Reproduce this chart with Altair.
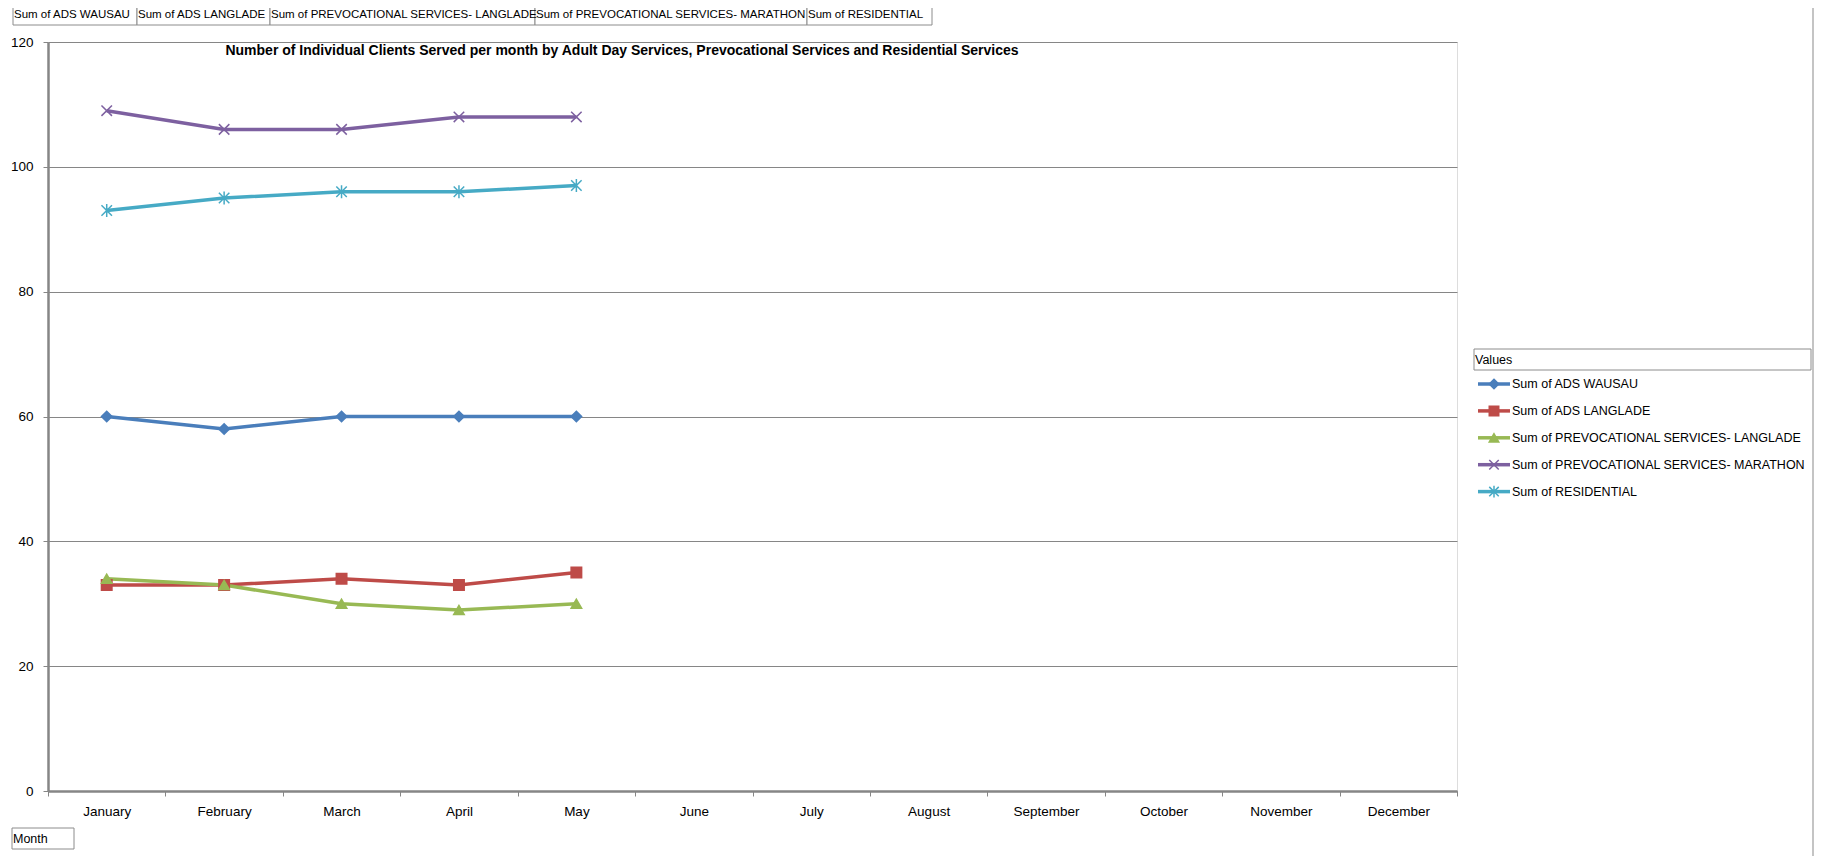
import altair as alt
import pandas as pd

# ---- data ----
months = ["January", "February", "March", "April", "May", "June", "July",
          "August", "September", "October", "November", "December"]
observed_months = months[:5]
series_names = ["Sum of ADS WAUSAU", "Sum of ADS LANGLADE",
                "Sum of PREVOCATIONAL SERVICES- LANGLADE",
                "Sum of PREVOCATIONAL SERVICES- MARATHON", "Sum of RESIDENTIAL"]
ads_wausau = [60, 58, 60, 60, 60]
ads_langlade = [33, 33, 34, 33, 35]
prevoc_langlade = [34, 33, 30, 29, 30]
prevoc_marathon = [109, 106, 106, 108, 108]
residential = [93, 95, 96, 96, 97]
y_ticks = [0, 20, 40, 60, 80, 100, 120]
title_text = ("Number of Individual Clients Served per month by Adult Day Services, "
              "Prevocational Services and Residential Services")

# ---- styles ----
colors = ["#4A7EBB", "#BE4B48", "#98B954", "#7D60A0", "#46AAC5"]
x_path = "M-1,-1L1,1M-1,1L1,-1"
star_path = "M-1,-1L1,1M-1,1L1,-1M0,-1.25L0,1.25"
shapes = ["diamond", "square", "triangle-up", x_path, star_path]
FONT = "Liberation Sans, Arial, sans-serif"
GRID = "#868686"
W, H = 1409, 749

all_values = [ads_wausau, ads_langlade, prevoc_langlade, prevoc_marathon, residential]
rows = []
for name, vals in zip(series_names, all_values):
    for m, v in zip(observed_months, vals):
        rows.append({"series": name, "month": m, "value": v})
df = pd.DataFrame(rows)

color_scale = alt.Scale(domain=series_names, range=colors)
shape_scale = alt.Scale(domain=series_names, range=shapes)

x_enc = alt.X("month:N", sort=months,
              scale=alt.Scale(type="band", domain=months, paddingInner=0, paddingOuter=0),
              bandPosition=0.5,
              axis=alt.Axis(title=None, labelAngle=0, tickBand="extent", grid=False,
                            domainColor=GRID, domainWidth=2.5, tickColor=GRID,
                            tickSize=5, labelPadding=8, labelFont=FONT,
                            labelFontSize=13.5, labelColor="#000000"))
y_enc = alt.Y("value:Q", scale=alt.Scale(domain=[0, 120], nice=False),
              axis=alt.Axis(title=None, values=y_ticks, grid=True, gridColor=GRID,
                            gridWidth=1, domainColor=GRID, domainWidth=2.5,
                            tickColor=GRID, tickSize=5, labelPadding=10,
                            labelFont=FONT, labelFontSize=13.5, labelColor="#000000"))

base = alt.Chart(df)
lines = base.mark_line(strokeWidth=3.5).encode(
    x=x_enc, y=y_enc,
    color=alt.Color("series:N", scale=color_scale, legend=None),
    detail="series:N")
points = base.mark_point(filled=True, size=110, strokeWidth=1.5, opacity=1).encode(
    x=alt.X("month:N", sort=months, bandPosition=0.5),
    y="value:Q",
    color=alt.Color("series:N", scale=color_scale, legend=None),
    stroke=alt.Stroke("series:N", scale=color_scale, legend=None),
    shape=alt.Shape("series:N", scale=shape_scale, legend=None))

# ---- title ----
title = alt.Chart(pd.DataFrame({"t": [title_text]})).mark_text(
    font=FONT, fontSize=14, fontWeight="bold", color="#000000",
    align="center", baseline="middle").encode(
    text="t:N", x=alt.value(574), y=alt.value(9))

# ---- field buttons along the top ----
btn_edges = [13, 137, 270, 535, 807, 932]
btn_df = pd.DataFrame({
    "label": series_names,
    "x0": [e - 48 for e in btn_edges[:-1]],
    "x1": [e - 48 for e in btn_edges[1:]],
})
btn_df["tx"] = btn_df["x0"] + 1
btn_box = alt.Chart(btn_df).mark_rect(fill="#FFFFFF", stroke="#8C8C8C", strokeWidth=1).encode(
    x=alt.X("x0:Q", scale=None, axis=None), x2="x1:Q",
    y=alt.value(-37), y2=alt.value(-17))
btn_text = alt.Chart(btn_df).mark_text(
    font=FONT, fontSize=11.5, color="#000000", align="left", baseline="middle").encode(
    x=alt.X("tx:Q", scale=None, axis=None), y=alt.value(-27), text="label:N")

# ---- Month button ----
month_df = pd.DataFrame({"t": ["Month"]})
month_box = alt.Chart(month_df).mark_rect(fill="#FFFFFF", stroke="#8C8C8C", strokeWidth=1).encode(
    x=alt.value(-36), x2=alt.value(26), y=alt.value(786), y2=alt.value(807))
month_text = alt.Chart(month_df).mark_text(
    font=FONT, fontSize=12.5, color="#000000", align="left", baseline="middle").encode(
    x=alt.value(-35), y=alt.value(797), text="t:N")

# ---- legend ----
vals_df = pd.DataFrame({"t": ["Values"]})
vals_box = alt.Chart(vals_df).mark_rect(fill="#FFFFFF", stroke="#8C8C8C", strokeWidth=1).encode(
    x=alt.value(1426), x2=alt.value(1763), y=alt.value(307), y2=alt.value(328))
vals_text = alt.Chart(vals_df).mark_text(
    font=FONT, fontSize=12.5, color="#000000", align="left", baseline="middle").encode(
    x=alt.value(1427), y=alt.value(318), text="t:N")

leg_df = pd.DataFrame({"series": series_names})
leg_df["ly"] = [342 + 26.9 * i for i in range(len(series_names))]
leg_line = alt.Chart(leg_df).mark_rule(strokeWidth=3.5).encode(
    x=alt.value(1430), x2=alt.value(1462),
    y=alt.Y("ly:Q", scale=None, axis=None),
    color=alt.Color("series:N", scale=color_scale, legend=None))
leg_pt = alt.Chart(leg_df).mark_point(filled=True, size=90, strokeWidth=1.5, opacity=1).encode(
    x=alt.value(1446), y=alt.Y("ly:Q", scale=None, axis=None),
    color=alt.Color("series:N", scale=color_scale, legend=None),
    stroke=alt.Stroke("series:N", scale=color_scale, legend=None),
    shape=alt.Shape("series:N", scale=shape_scale, legend=None))
leg_text = alt.Chart(leg_df).mark_text(
    font=FONT, fontSize=12.5, color="#000000", align="left", baseline="middle").encode(
    x=alt.value(1464), y=alt.Y("ly:Q", scale=None, axis=None), text="series:N")

# ---- outer frame (right edge) ----
frame_df = pd.DataFrame({"fx": [1765]})
frame = alt.Chart(frame_df).mark_rule(color="#B0B0B0", strokeWidth=1.5).encode(
    x=alt.X("fx:Q", scale=None, axis=None), y=alt.value(-60), y2=alt.value(900))

chart = alt.layer(
    lines, points, title, btn_box, btn_text, month_box, month_text,
    vals_box, vals_text, leg_line, leg_pt, leg_text, frame
).properties(
    width=W, height=H,
    autosize=alt.AutoSizeParams(type="none"),
    padding={"left": 40, "top": 34, "right": 358, "bottom": 65},
).configure_view(stroke=None).configure(background="#FFFFFF")

chart.save("out.html", embed_options={"renderer": "svg", "actions": False})
